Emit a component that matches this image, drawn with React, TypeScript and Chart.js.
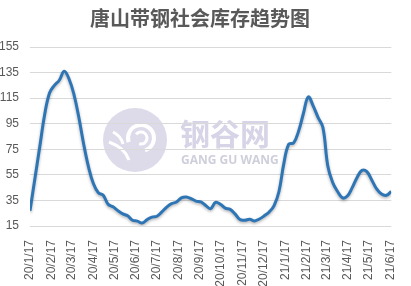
import React, { useEffect, useRef } from "react";
import { Chart, registerables } from "chart.js";

Chart.register(...registerables);

const title = "唐山带钢社会库存趋势图";
const startDate = "2020-01-17";
// weekly inventory values (万吨), one per week starting 20/1/17
const inventory = [
  27, 52, 77, 102, 119, 125, 129, 136, 130, 118, 100, 79, 61, 48, 41, 39, 32, 30, 27, 24.5,
  23, 19.5, 18.8, 17.3, 20, 22, 22.6, 26, 29.8, 32.5, 33.8, 37, 37.7, 36.4, 34.5, 33.8, 31, 28.6,
  33.5, 32, 29, 28, 24.5, 20, 19.5, 20.2, 19, 20.5, 23, 26, 31, 42, 64, 79, 80, 89, 103, 116,
  109, 100, 92, 62, 49, 42, 37, 38.5, 45, 53, 58.5, 57.5, 51, 44, 40, 39, 42,
];
const tickLabels = [
  "20/1/17", "20/2/17", "20/3/17", "20/4/17", "20/5/17", "20/6/17", "20/7/17", "20/8/17", "20/9/17",
  "20/10/17", "20/11/17", "20/12/17", "21/1/17", "21/2/17", "21/3/17", "21/4/17", "21/5/17", "21/6/17",
];
const yTicks = [15, 35, 55, 75, 95, 115, 135, 155];

function dayOffset(label: string): number {
  const [yy, mm, dd] = label.split("/").map(Number);
  const d = Date.UTC(2000 + yy, mm - 1, dd);
  const s = Date.parse(startDate + "T00:00:00Z");
  return Math.round((d - s) / 86400000);
}

const tickDays = tickLabels.map(dayOffset);
const points = inventory.map((v, i) => ({ x: i * 7, y: v }));

const watermark = {
  id: "watermark",
  beforeDraw(chart: any) {
    const ctx = chart.ctx;
    ctx.save();
    ctx.fillStyle = "#ffffff";
    ctx.fillRect(0, 0, chart.width, chart.height);
    // logo circle
    const cx = 135, cy = 140, r = 32;
    ctx.fillStyle = "#dddbea";
    ctx.beginPath();
    ctx.arc(cx, cy, r, 0, Math.PI * 2);
    ctx.fill();
    ctx.strokeStyle = "#ffffff";
    ctx.lineWidth = 4;
    ctx.beginPath();
    ctx.arc(cx + 6, cy - 2, 13, Math.PI * 0.9, Math.PI * 2.4);
    ctx.stroke();
    ctx.lineWidth = 3;
    ctx.beginPath();
    ctx.arc(cx + 6, cy - 2, 6, Math.PI * 1.2, Math.PI * 2.6);
    ctx.stroke();
    ctx.lineWidth = 3;
    ctx.beginPath();
    ctx.moveTo(cx - 26, cy + 2);
    ctx.quadraticCurveTo(cx - 10, cy + 8, cx - 6, cy + 20);
    ctx.stroke();
    ctx.beginPath();
    ctx.moveTo(cx - 22, cy - 8);
    ctx.quadraticCurveTo(cx - 14, cy - 4, cx - 12, cy + 4);
    ctx.stroke();
    // text
    ctx.fillStyle = "#d6d4e6";
    ctx.font = "bold 30px 'Noto Sans CJK SC'";
    ctx.textBaseline = "middle";
    ctx.textAlign = "left";
    ctx.fillText("钢谷网", 180, 134);
    ctx.fillStyle = "#cfcfdc";
    ctx.font = "bold 12px 'Open Sans'";
    ctx.fillText("GANG GU WANG", 181, 161);
    ctx.restore();
  },
};

const lineShadow = {
  id: "lineShadow",
  beforeDatasetsDraw(chart: any) {
    const ctx = chart.ctx;
    ctx.save();
    ctx.shadowColor = "rgba(0,0,0,0.3)";
    ctx.shadowBlur = 3;
    ctx.shadowOffsetY = 1.5;
  },
  afterDatasetsDraw(chart: any) {
    chart.ctx.restore();
  },
};

export default function App() {
  const ref = useRef<HTMLCanvasElement | null>(null);

  useEffect(() => {
    if (!ref.current) return;
    const chart = new Chart(ref.current, {
      type: "line",
      data: {
        datasets: [
          {
            label: title,
            data: points,
            borderColor: "#2e75b6",
            borderWidth: 3,
            pointRadius: 0,
            tension: 0.4,
            fill: false,
          },
        ],
      },
      options: {
        animation: false,
        responsive: false,
        maintainAspectRatio: false,
        layout: { padding: { left: 0, right: 11, top: 0, bottom: 0 } },
        plugins: {
          legend: { display: false },
          tooltip: { enabled: false },
          title: {
            display: true,
            text: title,
            color: "#595959",
            font: { family: "'Noto Sans CJK SC'", size: 20, weight: "bold" as any },
            padding: { top: 6, bottom: 17 },
          },
        },
        scales: {
          x: {
            type: "linear",
            min: 0,
            max: 518,
            grid: { display: false },
            border: { display: false },
            afterFit(scale: any) {
              scale.height = 60;
            },
            afterBuildTicks(scale: any) {
              scale.ticks = tickDays.map((d) => ({ value: d }));
            },
            ticks: {
              autoSkip: false,
              maxRotation: 90,
              minRotation: 90,
              padding: 6,
              color: "#595959",
              font: { family: "'Liberation Sans'", size: 12 },
              callback(value: any) {
                const idx = tickDays.indexOf(Number(value));
                return idx >= 0 ? tickLabels[idx] : "";
              },
            },
          },
          y: {
            min: 15,
            max: 155,
            grid: { color: "#d9d9d9", lineWidth: 1, drawTicks: false },
            border: { display: false },
            afterFit(scale: any) {
              scale.width = 30;
            },
            afterBuildTicks(scale: any) {
              scale.ticks = yTicks.map((v) => ({ value: v }));
            },
            ticks: {
              padding: 11,
              color: "#595959",
              font: { family: "'Liberation Sans'", size: 12 },
            },
          },
        },
      },
      plugins: [watermark, lineShadow],
    });
    return () => chart.destroy();
  }, []);

  return (
    <div style={{ position: "fixed", left: 0, top: 0, width: 411, height: 286, background: "#fff" }}>
      <canvas ref={ref} width={411} height={286} style={{ width: 411, height: 286, display: "block" }} />
    </div>
  );
}
